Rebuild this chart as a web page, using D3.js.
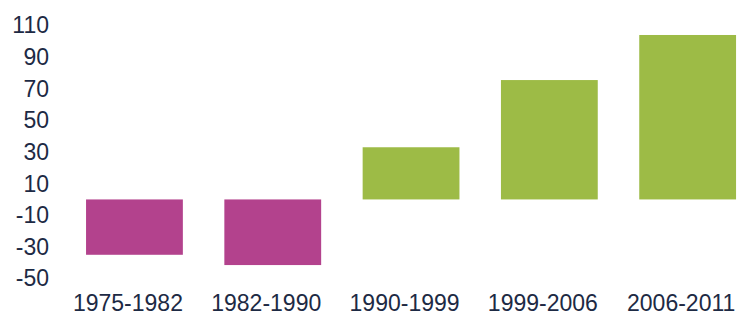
<!DOCTYPE html>
<html>
<head>
  <meta charset="utf-8">
  <script src="https://d3js.org/d3.v7.min.js"></script>
  <style>
    body { margin: 0; background: #fff; }
    .axis text {
      font-family: "Liberation Sans", Arial, sans-serif;
      font-size: 23px;
      fill: #1d2a44;
    }
  </style>
</head>
<body>
<script>
  var periods = ["1975-1982", "1982-1990", "1990-1999", "1999-2006", "2006-2011"];
  var values = [-35, -41.5, 33, 75.5, 104];
  var yTicks = [110, 90, 70, 50, 30, 10, -10, -30, -50];

  var width = 737, height = 316;

  var svg = d3.select("body").append("svg")
    .attr("width", width)
    .attr("height", height);

  var x = d3.scaleBand()
    .domain(periods)
    .range([65.3, 756.8])
    .paddingInner(0.3)
    .paddingOuter(0.15);

  var y = d3.scaleLinear()
    .domain([-50, 110])
    .range([278.5, 25.5]);

  svg.selectAll("rect")
    .data(values)
    .enter()
    .append("rect")
    .attr("x", function(d, i) { return x(periods[i]); })
    .attr("y", function(d) { return y(Math.max(0, d)); })
    .attr("width", x.bandwidth())
    .attr("height", function(d) { return Math.abs(y(d) - y(0)); })
    .attr("fill", function(d) { return d < 0 ? "#b3428d" : "#9dbb46"; });

  // plain hyphen for negatives, like the original
  var yAxis = svg.append("g")
    .attr("class", "axis")
    .attr("transform", "translate(49,0)")
    .call(d3.axisLeft(y).tickValues(yTicks).tickSize(0).tickPadding(0)
      .tickFormat(function(d) { return String(d); }));
  yAxis.select(".domain").remove();

  var xAxis = svg.append("g")
    .attr("class", "axis")
    .attr("transform", "translate(-6.5,295)")
    .call(d3.axisBottom(x).tickSize(0).tickPadding(0));
  xAxis.select(".domain").remove();
</script>
</body>
</html>
